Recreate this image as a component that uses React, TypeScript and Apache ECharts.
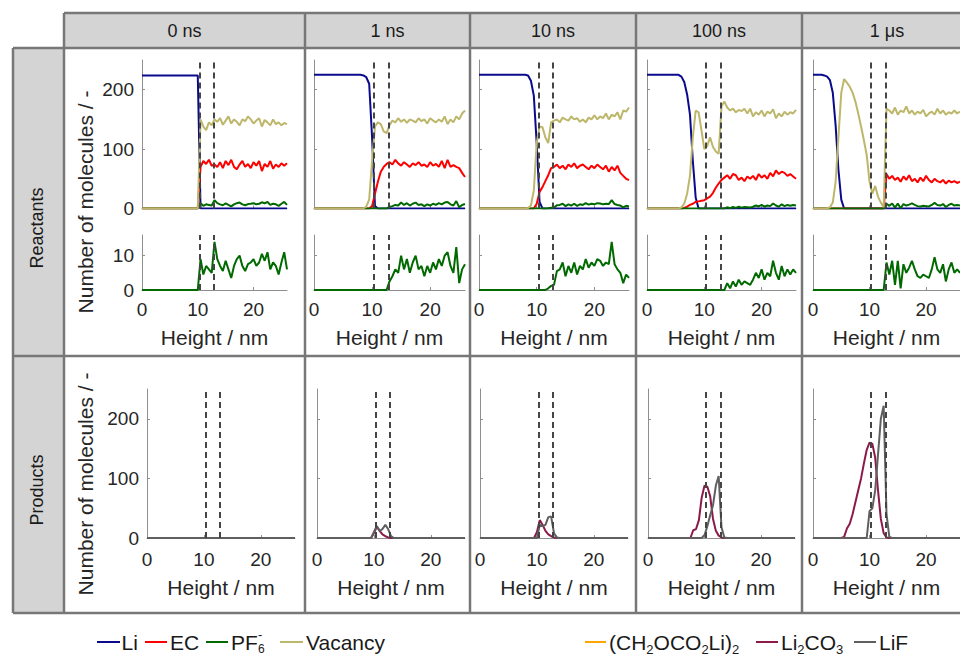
import React, { useEffect, useRef } from "react";
import * as echarts from "echarts";

// ---------- DATA ----------
const heights = [0,0.5,1,1.5,2,2.5,3,3.5,4,4.5,5,5.5,6,6.5,7,7.5,8,8.5,9,9.5,10,10.5,11,11.5,12,12.5,13,13.5,14,14.5,15,15.5,16,16.5,17,17.5,18,18.5,19,19.5,20,20.5,21,21.5,22,22.5,23,23.5,24,24.5,25,25.5,26];
const timeLabels = ["0 ns", "1 ns", "10 ns", "100 ns", "1 μs"];
const interfaces = [10.3, 12.8];
const xTicks = [0, 10, 20];
const yTicksMain = [0, 100, 200];
const yTicksZoom = [0, 10];

// 0 ns
const li0 = [224,224,224,224,224,224,224,224,224,224, 224,224,224,224,224,224,224,224,224,224, 224,0,0,0,0,0,0,0,0,0, 0,0,0,0,0,0,0,0,0,0, 0,0,0,0,0,0,0,0,0,0, 0,0,0];
const ec0 = [0,0,0,0,0,0,0,0,0,0, 0,0,0,0,0,0,0,0,0,0, 0,70,80,75,82,72,74,70,78,68, 80,73,82,70,66,74,80,70,75,68, 78,72,80,63,75,70,80,67,74,70, 76,72,76];
const pf0 = [0,0,0,0,0,0,0,0,0,0, 0,0,0,0,0,0,0,0,0,0, 0,9,4.5,7,6,5,14,9,7,5.5, 8.5,6,3.5,7,9,10,7,5.5,7.5,8, 9,7,8,10.5,8.5,11,6,8,7,4.5, 8,11,6];
const vac0 = [0,0,0,0,0,0,0,0,0,0, 0,0,0,0,0,0,0,0,0,0, 0,150,138,132,145,140,150,146,152,141, 148,155,143,150,146,140,150,147,155,150, 143,148,152,138,149,145,140,150,142,145, 140,144,142];
// 1 ns
const li1 = [225,225,225,225,225,225,225,225,225,225, 225,225,225,225,225,225,225,224,221,210, 120,4,0,0,0,0,0,0,0,0, 0,0,0,0,0,0,0,0,0,0, 0,0,0,0,0,0,0,0,0,0, 0,0,0];
const ec1 = [0,0,0,0,0,0,0,0,0,0, 0,0,0,0,0,0,0,0,0,0, 4,25,45,62,70,75,78,74,82,76, 72,78,74,70,76,73,78,72,74,70, 78,72,75,70,80,68,82,70,73,70, 68,60,53];
const pf1 = [0,0,0,0,0,0,0,0,0,0, 0,0,0,0,0,0,0,0,0,0, 0,0,0,0,0,0,2.5,4,6,5, 10,6,9,5,8,10,6,7,4,7, 5,8,6,9,7,10,11,7,5,12.5, 2,6,7.5];
const vac1 = [0,0,0,0,0,0,0,0,0,0, 0,0,0,0,0,0,0,0,3,15, 80,138,145,142,130,127,140,148,145,152, 146,150,144,150,148,145,152,147,150,143, 152,148,145,150,146,155,142,150,145,155, 150,160,165];
// 10 ns
const li2 = [225,225,225,225,225,225,225,225,225,225, 225,225,225,225,225,225,225,224,215,190, 110,11,0,0,0,0,0,0,0,0, 0,0,0,0,0,0,0,0,0,0, 0,0,0,0,0,0,0,0,0,0, 0,0,0];
const ec2 = [0,0,0,0,0,0,0,0,0,0, 0,0,0,0,0,0,0,0,0,0, 8,28,36,46,56,68,70,74,68,72, 66,74,70,76,68,72,74,70,66,72, 68,74,70,66,72,62,70,64,72,60, 55,50,48];
const pf2 = [0,0,0,0,0,0,0,0,0,0, 0,0,0,0,0,0,0,0,0,0, 0,0,0,0,0.5,1.2,1.5,5.5,6,8, 4,7,5,8,4.5,7,6,9,6.5,8, 7,9,8.5,7,8,7.5,14,7.5,6,5, 2,4.5,3.5];
const vac2 = [0,0,0,0,0,0,0,0,0,0, 0,0,0,0,0,0,0,1,5,30, 110,138,137,120,110,145,148,150,145,153, 150,148,155,150,152,146,150,145,153,150, 157,150,155,152,160,150,158,155,162,150, 165,163,170];
// 100 ns
const li3 = [225,225,225,225,225,225,225,225,225,225, 225,225,222,213,192,158,80,18,0,0, 0,0,0,0,0,0,0,0,0,0, 0,0,0,0,0,0,0,0,0,0, 0,0,0,0,0,0,0,0,0,0, 0,0,0];
const ec3 = [0,0,0,0,0,0,0,0,0,0, 0,0,0,1,3,6,8,11,12,13, 14,17,20,26,35,42,48,52,56,50, 58,56,48,52,46,54,50,55,48,58, 52,56,50,60,54,64,58,62,60,55, 58,54,50];
const pf3 = [0,0,0,0,0,0,0,0,0,0, 0,0,0,0,0,0,0,0,0,0, 0,0,0,0,0,0,0,0,2,0.5, 2.5,1,3,1.5,2.5,2,1.5,3,5,3.5, 6,3,5,4,8.5,5,3,7,4,6, 4.5,6,5];
const vac3 = [0,0,0,0,0,0,0,0,0,0, 0,0,2,8,25,55,120,165,162,132, 100,105,120,104,96,92,172,180,170,165, 168,162,166,164,168,160,168,155,162,158, 165,155,163,160,167,152,160,155,163,158, 162,160,166];
// 1 µs
const li4 = [225,225,225,225,224,222,216,195,140,65, 15,0,0,0,0,0,0,0,0,0, 0,0,0,0,0,0,0,0,0,0, 0,0,0,0,0,0,0,0,0,0, 0,0,0,0,0,0,0,0,0,0, 0,0,0];
const ec4 = [0,0,0,0,0,0,0,0,0,0, 0,0,0,0,0,0,0,0,0,0, 0,0,0,0,0,0,58,50,55,48, 52,45,54,48,56,46,50,44,52,46, 55,48,44,50,46,44,48,42,47,44, 46,43,45];
const pf4 = [0,0,0,0,0,0,0,0,0,0, 0,0,0,0,0,0,0,0,0,0, 0,0,0,0,0,0,8,4.5,8.5,1.5, 8.5,0.5,7.5,5,6.5,8.5,6,4,3.5,4.5, 4,3.5,6,9.5,6,5,7.5,2.5,6,8, 5,6,5];
const vac4 = [0,0,0,0,0,0.3,2,10,45,120, 195,218,212,205,195,180,160,138,115,90, 45,25,38,20,10,2,168,165,160,170, 158,165,162,172,160,165,158,163,160,166, 155,160,163,158,168,160,165,158,162,160, 165,160,163];

// products: [height, count]  ((CH2OCO2Li)2 is not visible in any panel: legend only)
const lc0 = [[0,0],[26,0]];
const lif0 = [[0,0],[26,0]];
const lc1 = [[0,0],[9.5,0],[10,8],[10.5,19],[11,12],[11.5,6],[12,3],[12.5,1],[13,0],[26,0]];
const lif1 = [[0,0],[9.5,0],[10,10],[10.5,20],[11,12],[11.5,15],[12,22],[12.5,15],[13,3],[13.5,0],[26,0]];
const lc2 = [[0,0],[9.5,0],[10,10],[10.5,30],[11,22],[11.5,12],[12,6],[12.5,3],[13,1],[13.5,0],[26,0]];
const lif2 = [[0,0],[10,0],[10.5,22],[11,20],[11.5,22],[12,35],[12.5,36],[13,8],[13.5,1],[14,0],[26,0]];
const lc3 = [[0,0],[7.5,0],[8,13],[8.5,15],[9,30],[9.5,68],[10,88],[10.5,86],[11,70],[11.5,32],[12,12],[12.5,4],[13,1],[13.5,0],[26,0]];
const lif3 = [[0,0],[9.5,0],[10,5],[10.5,20],[11,38],[11.5,55],[12,88],[12.5,104],[13,18],[13.5,1],[14,0],[26,0]];
const lc4 = [[0,0],[5,0],[5.5,2],[6,16],[6.5,24],[7,40],[7.5,60],[8,80],[8.5,100],[9,125],[9.5,148],[10,160],[10.5,158],[11,135],[11.5,80],[12,32],[12.5,8],[13,1],[13.5,0],[26,0]];
const lif4 = [[0,0],[9.5,0],[10,45],[10.5,50],[11,80],[11.5,140],[12,200],[12.5,222],[13,40],[13.5,2],[14,0],[26,0]];

const reactantNames = ["Li", "EC", "PF6-", "Vacancy"];
const productNames = ["(CH2OCO2Li)2", "Li2CO3", "LiF"];

// ---------- STYLE / LAYOUT ----------
const FONT = '"Liberation Sans", Arial, sans-serif';
const COLORS: Record<string, string> = {
  "Li": "#0a0a8c",
  "EC": "#ff0000",
  "PF6-": "#006a00",
  "Vacancy": "#bdb76b",
  "(CH2OCO2Li)2": "#ffa500",
  "Li2CO3": "#8b1a4b",
  "LiF": "#5f5f5f",
};
const reactCols = [[142, 287], [314, 465], [479, 629], [647, 796], [813, 963]];
const prodCols = [[147, 295], [317, 465], [480, 628], [648, 795], [813, 963]];
const rowBoxes = [
  { top: 60, height: 148.5 },
  { top: 235, height: 55 },
  { top: 389, height: 149 },
];
const colEdges = [64, 305, 470, 636, 802];
const FRAME = "#777777";
const HDR = "#d4d4d4";
const AXIS = "#8f8f8f";
const TXT = "#262626";

const columns = [
  { li: li0, ec: ec0, pf: pf0, vac: vac0, lc: lc0, lif: lif0 },
  { li: li1, ec: ec1, pf: pf1, vac: vac1, lc: lc1, lif: lif1 },
  { li: li2, ec: ec2, pf: pf2, vac: vac2, lc: lc2, lif: lif2 },
  { li: li3, ec: ec3, pf: pf3, vac: vac3, lc: lc3, lif: lif3 },
  { li: li4, ec: ec4, pf: pf4, vac: vac4, lc: lc4, lif: lif4 },
];

const zip = (arr: number[]) => heights.map((h, i) => [h, arr[i]]);

function buildOption() {
  const grid: any[] = [];
  const xAxis: any[] = [];
  const yAxis: any[] = [];
  const series: any[] = [];

  columns.forEach((c, ci) => {
    for (let r = 0; r < 3; r++) {
      const g = grid.length;
      const [x0, x1] = r === 2 ? prodCols[ci] : reactCols[ci];
      grid.push({ left: x0, top: rowBoxes[r].top, width: x1 - x0, height: rowBoxes[r].height });
      xAxis.push({
        gridIndex: g,
        type: "value",
        min: 0,
        max: 26,
        interval: 10,
        axisLine: { show: true, onZero: false, lineStyle: { color: AXIS, width: 1 } },
        axisTick: { show: true, inside: true, length: 3, lineStyle: { color: AXIS }, customValues: xTicks },
        axisLabel: {
          show: r !== 0,
          customValues: xTicks,
          margin: r === 1 ? 10 : 12,
          fontSize: 19,
          color: TXT,
          fontFamily: FONT,
        },
        splitLine: { show: false },
        name: r !== 0 ? "Height / nm" : "",
        nameLocation: "middle",
        nameGap: r === 1 ? 37 : 39,
        nameTextStyle: { fontSize: 21, color: TXT, fontFamily: FONT },
      });
      const ymax = r === 1 ? 16 : 250;
      const yint = r === 1 ? 10 : 100;
      const yt = r === 1 ? yTicksZoom : yTicksMain;
      yAxis.push({
        gridIndex: g,
        type: "value",
        min: 0,
        max: ymax,
        interval: yint,
        axisLine: { show: true, onZero: false, lineStyle: { color: AXIS, width: 1 } },
        axisTick: { show: true, inside: true, length: 3, lineStyle: { color: AXIS }, customValues: yt },
        axisLabel: {
          show: ci === 0,
          customValues: yt,
          margin: 8,
          fontSize: 19,
          color: TXT,
          fontFamily: FONT,
        },
        splitLine: { show: false },
      });
      const mk = {
        silent: true,
        symbol: ["none", "none"],
        label: { show: false },
        lineStyle: { type: [6, 4], color: "#454545", width: 2 },
        data: interfaces.map((v) => ({ xAxis: v })),
      };
      const line = (name: string, data: any[], withMark: boolean) => ({
        type: "line",
        name,
        xAxisIndex: g,
        yAxisIndex: g,
        data,
        showSymbol: false,
        symbol: "none",
        silent: true,
        lineStyle: { color: COLORS[name], width: 2 },
        itemStyle: { color: COLORS[name] },
        markLine: withMark ? mk : undefined,
      });
      if (r === 0) {
        series.push(line(reactantNames[0], zip(c.li), true));
        series.push(line(reactantNames[1], zip(c.ec), false));
        series.push(line(reactantNames[2], zip(c.pf), false));
        series.push(line(reactantNames[3], zip(c.vac), false));
      } else if (r === 1) {
        series.push(line(reactantNames[2], zip(c.pf), true));
      } else {
        series.push(line(productNames[1], c.lc, true));
        series.push(line(productNames[2], c.lif, false));
      }
    }
  });

  const graphic: any[] = [];
  graphic.push({ type: "rect", shape: { x: 64, y: 13, width: 910, height: 35 }, style: { fill: HDR } });
  graphic.push({ type: "rect", shape: { x: 13, y: 48, width: 51, height: 565 }, style: { fill: HDR } });
  const hl = (y: number, xa: number) =>
    graphic.push({ type: "line", shape: { x1: xa, y1: y, x2: 960, y2: y }, style: { stroke: FRAME, lineWidth: 2.5 } });
  hl(13, 64);
  hl(48, 13);
  hl(356, 13);
  hl(613, 13);
  graphic.push({ type: "line", shape: { x1: 13, y1: 48, x2: 13, y2: 613 }, style: { stroke: FRAME, lineWidth: 2.5 } });
  colEdges.forEach((x) =>
    graphic.push({ type: "line", shape: { x1: x, y1: 13, x2: x, y2: 613 }, style: { stroke: FRAME, lineWidth: 2.5 } })
  );
  const colRights = [...colEdges.slice(1), 972];
  timeLabels.forEach((t, i) =>
    graphic.push({
      type: "text",
      x: (colEdges[i] + colRights[i]) / 2,
      y: 31,
      style: { text: t, font: `18px ${FONT}`, fill: "#1a1a1a", align: "center", verticalAlign: "middle" },
    })
  );
  const rot = (text: string, x: number, y: number, size: number, fill: string) =>
    graphic.push({
      type: "text",
      x,
      y,
      rotation: Math.PI / 2,
      style: { text, font: `${size}px ${FONT}`, fill, align: "center", verticalAlign: "middle" },
    });
  rot("Reactants", 37, 228, 18, "#1a1a1a");
  rot("Products", 37, 490, 18, "#1a1a1a");
  rot("Number of molecules / -", 85, 202, 21, TXT);
  rot("Number of molecules / -", 85, 484, 21, TXT);

  // legend
  const LY = 642;
  const legLine = (name: string, xa: number, xb: number) =>
    graphic.push({ type: "line", shape: { x1: xa, y1: LY, x2: xb, y2: LY }, style: { stroke: COLORS[name], lineWidth: 2 } });
  const legText = (text: string, x: number, y: number, size: number) =>
    graphic.push({
      type: "text",
      x,
      y,
      style: { text, font: `${size}px ${FONT}`, fill: "#1a1a1a", align: "left", verticalAlign: "middle" },
    });
  const rich = {
    n: { fontSize: 21, fontFamily: FONT, fill: "#1a1a1a", lineHeight: 27, verticalAlign: "middle" },
    s: { fontSize: 13, fontFamily: FONT, fill: "#1a1a1a", lineHeight: 13, verticalAlign: "bottom" },
  };
  const legRich = (text: string, x: number) =>
    graphic.push({
      type: "text",
      x,
      y: LY,
      style: { text, rich, align: "left", verticalAlign: "middle" },
    });
  legLine("Li", 97, 120);
  legText("Li", 121.5, LY, 21);
  legLine("EC", 145, 167);
  legText("EC", 170, LY, 21);
  legLine("PF6-", 206, 228);
  legText("PF", 231, LY, 21);
  legText("-", 258, 634, 13);
  legText("6", 258, 649, 12);
  legLine("Vacancy", 280, 303);
  legText("Vacancy", 306, LY, 21);

  legLine(productNames[0], 585, 606);
  legRich("{n|(CH}{s|2}{n|OCO}{s|2}{n|Li)}{s|2}", 609);
  legLine(productNames[1], 756, 778);
  legRich("{n|Li}{s|2}{n|CO}{s|3}", 781);
  legLine(productNames[2], 854, 876);
  legText("LiF", 879, LY, 21);

  return {
    animation: false,
    backgroundColor: "#ffffff",
    grid,
    xAxis,
    yAxis,
    series,
    graphic,
  };
}

export default function App() {
  const ref = useRef<HTMLDivElement>(null);
  useEffect(() => {
    if (!ref.current) return;
    const chart = echarts.init(ref.current, undefined, { renderer: "svg" });
    chart.setOption(buildOption() as any);
    return () => chart.dispose();
  }, []);
  return (
    <div
      ref={ref}
      style={{ position: "absolute", left: 0, top: 0, width: 960, height: 657, background: "#fff" }}
    />
  );
}
